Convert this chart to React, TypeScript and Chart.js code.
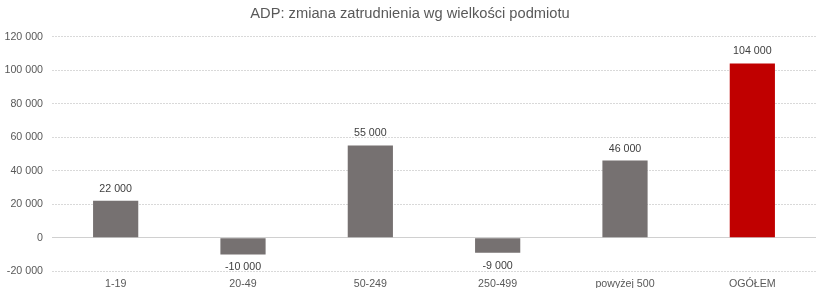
import React, { useEffect, useRef } from "react";
import { Chart, registerables } from "chart.js";

Chart.register(...registerables);

const categories = ["1-19", "20-49", "50-249", "250-499", "powyżej 500", "OGÓŁEM"];
const values = [22000, -10000, 55000, -9000, 46000, 104000];
const barColors = ["#767171", "#767171", "#767171", "#767171", "#767171", "#C00000"];
const titleText = "ADP: zmiana zatrudnienia wg wielkości podmiotu";

const FONT = "'Liberation Sans', Arial, sans-serif";

const fmt = (v: number) => {
  const s = Math.abs(v).toString().replace(/\B(?=(\d{3})+(?!\d))/g, " ");
  return (v < 0 ? "-" : "") + s;
};

const labelPlugin = {
  id: "valueLabels",
  afterDatasetsDraw(chart: any) {
    const ctx = chart.ctx;
    const meta = chart.getDatasetMeta(0);
    ctx.save();
    ctx.font = "10.67px " + FONT;
    ctx.fillStyle = "#404040";
    ctx.textAlign = "center";
    ctx.textBaseline = "middle";
    meta.data.forEach((bar: any, i: number) => {
      const v = values[i];
      const y = v >= 0 ? bar.y - 12 : bar.y + 13;
      ctx.fillText(fmt(v), bar.x, y);
    });
    ctx.restore();
  },
};

export default function App() {
  const ref = useRef<HTMLCanvasElement>(null);
  useEffect(() => {
    document.body.style.margin = "0";
    const chart = new Chart(ref.current!, {
      type: "bar",
      data: {
        labels: categories,
        datasets: [
          {
            data: values,
            backgroundColor: barColors,
            barPercentage: 0.5,
            categoryPercentage: 0.71,
          },
        ],
      },
      options: {
        animation: false,
        responsive: false,
        layout: { padding: { left: 4, right: 9, top: 0, bottom: 6 } },
        plugins: {
          legend: { display: false },
          tooltip: { enabled: false },
          title: {
            display: true,
            text: titleText,
            color: "#595959",
            font: { family: FONT, size: 14.67, weight: "normal" },
            padding: { top: 5, bottom: 14 },
          },
        },
        scales: {
          x: {
            grid: { display: false },
            border: { display: false },
            ticks: {
              color: "#595959",
              font: { family: FONT, size: 10.67 },
              padding: -2,
            },
          },
          y: {
            min: -20000,
            max: 120000,
            afterFit: (scale: any) => {
              scale.width = 48;
            },
            border: {
              display: false,
              dash: (c: any) => (c.tick && c.tick.value === 0 ? [] : [2, 1]),
            },
            grid: {
              color: (c: any) => (c.tick && c.tick.value === 0 ? "#d0d0d0" : "#d9d9d9"),
              lineWidth: 1,
              drawTicks: false,
            },
            ticks: {
              stepSize: 20000,
              color: "#595959",
              font: { family: FONT, size: 10.67 },
              padding: 9,
              callback: (v: any) => fmt(Number(v)),
            },
          },
        },
      },
      plugins: [labelPlugin],
    });
    return () => chart.destroy();
  }, []);
  return <canvas ref={ref} width={825} height={294} style={{ display: "block" }} />;
}
